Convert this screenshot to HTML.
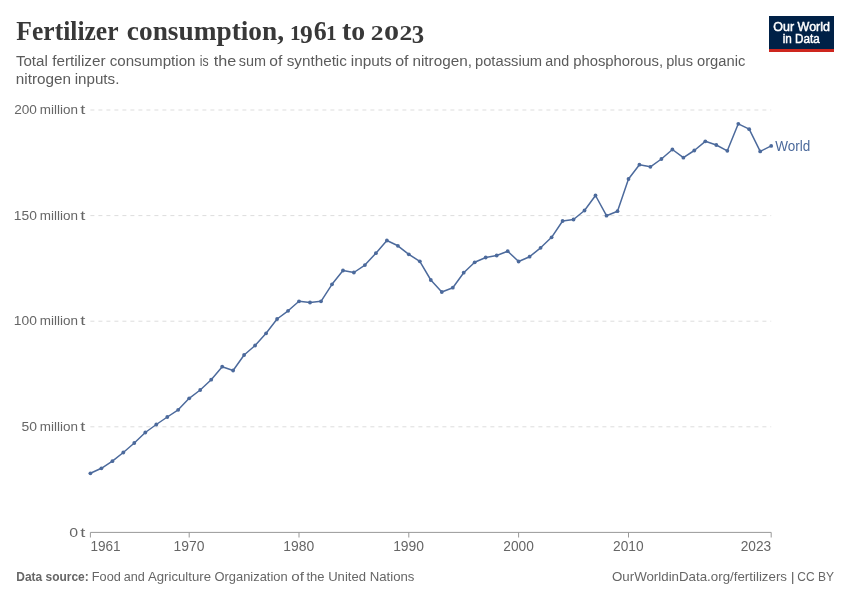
<!DOCTYPE html>
<html><head><meta charset="utf-8"><style>
html,body{margin:0;padding:0;background:#fff;}
svg{display:block;will-change:transform;font-family:"Liberation Sans",sans-serif;}
</style></head><body>
<svg width="850" height="600" viewBox="0 0 850 600">
<rect width="850" height="600" fill="#fff"/>
<g style="font-family:'Liberation Serif',serif" font-weight="bold" fill="#383838">
<text x="16.36" y="40.30" font-size="27.8" font-weight="bold" style="font-family:'Liberation Serif',serif" textLength="102.19" lengthAdjust="spacingAndGlyphs">Fertilizer</text>
<text x="126.87" y="40.30" font-size="27.8" font-weight="bold" style="font-family:'Liberation Serif',serif" textLength="157.17" lengthAdjust="spacingAndGlyphs">consumption,</text>
<text x="341.95" y="40.30" font-size="27.8" font-weight="bold" style="font-family:'Liberation Serif',serif" textLength="23.10" lengthAdjust="spacingAndGlyphs">to</text>
<text transform="translate(289.90,40.20) scale(0.2119,0.2015)" font-size="100">1</text><text transform="translate(300.10,43.46) scale(0.2543,0.2456)" font-size="100">9</text><text transform="translate(313.72,40.23) scale(0.2589,0.2753)" font-size="100">6</text><text transform="translate(326.08,40.20) scale(0.2146,0.2015)" font-size="100">1</text><text transform="translate(370.83,40.20) scale(0.2554,0.1994)" font-size="100">2</text><text transform="translate(383.95,40.30) scale(0.3020,0.2001)" font-size="100">0</text><text transform="translate(399.43,40.20) scale(0.2554,0.1994)" font-size="100">2</text><text transform="translate(411.77,43.16) scale(0.2475,0.2441)" font-size="100">3</text>
</g>
<g fill="#5b5b5b"><text x="15.88" y="66.40" font-size="15.3" textLength="31.99" lengthAdjust="spacingAndGlyphs">Total</text><text x="52.18" y="66.40" font-size="15.3" textLength="53.37" lengthAdjust="spacingAndGlyphs">fertilizer</text><text x="109.66" y="66.40" font-size="15.3" textLength="85.83" lengthAdjust="spacingAndGlyphs">consumption</text><text x="199.78" y="66.40" font-size="15.3" textLength="8.86" lengthAdjust="spacingAndGlyphs">is</text><text x="213.86" y="66.40" font-size="15.3" textLength="22.46" lengthAdjust="spacingAndGlyphs">the</text><text x="238.80" y="66.40" font-size="15.3" textLength="27.25" lengthAdjust="spacingAndGlyphs">sum</text><text x="269.34" y="66.40" font-size="15.3" textLength="13.03" lengthAdjust="spacingAndGlyphs">of</text><text x="286.68" y="66.40" font-size="15.3" textLength="60.23" lengthAdjust="spacingAndGlyphs">synthetic</text><text x="350.77" y="66.40" font-size="15.3" textLength="40.98" lengthAdjust="spacingAndGlyphs">inputs</text><text x="395.23" y="66.40" font-size="15.3" textLength="13.35" lengthAdjust="spacingAndGlyphs">of</text><text x="412.48" y="66.40" font-size="15.3" textLength="59.49" lengthAdjust="spacingAndGlyphs">nitrogen,</text><text x="474.95" y="66.40" font-size="15.3" textLength="67.22" lengthAdjust="spacingAndGlyphs">potassium</text><text x="545.29" y="66.40" font-size="15.3" textLength="23.83" lengthAdjust="spacingAndGlyphs">and</text><text x="573.14" y="66.40" font-size="15.3" textLength="89.99" lengthAdjust="spacingAndGlyphs">phosphorous,</text><text x="666.16" y="66.40" font-size="15.3" textLength="26.77" lengthAdjust="spacingAndGlyphs">plus</text><text x="696.98" y="66.40" font-size="15.3" textLength="48.31" lengthAdjust="spacingAndGlyphs">organic</text><text x="15.79" y="84.40" font-size="15.3" textLength="55.21" lengthAdjust="spacingAndGlyphs">nitrogen</text><text x="74.69" y="84.40" font-size="15.3" textLength="44.70" lengthAdjust="spacingAndGlyphs">inputs.</text></g>
<rect x="769" y="16" width="65" height="36" fill="#002147"/>
<rect x="769" y="49" width="65" height="3" fill="#ce261e"/>
<g fill="#fff"><text x="773.31" y="30.70" font-size="12.3" textLength="56.69" lengthAdjust="spacingAndGlyphs" stroke="#fff" stroke-width="0.45">Our World</text><text x="782.72" y="42.75" font-size="12.3" textLength="37.08" lengthAdjust="spacingAndGlyphs" stroke="#fff" stroke-width="0.45">in Data</text></g>
<line x1="90.4" y1="426.8" x2="771.2" y2="426.8" stroke="#dddddd" stroke-dasharray="4,4"/><line x1="90.4" y1="321.2" x2="771.2" y2="321.2" stroke="#dddddd" stroke-dasharray="4,4"/><line x1="90.4" y1="215.6" x2="771.2" y2="215.6" stroke="#dddddd" stroke-dasharray="4,4"/><line x1="90.4" y1="110.0" x2="771.2" y2="110.0" stroke="#dddddd" stroke-dasharray="4,4"/>
<g fill="#666"><text x="21.44" y="431.00" font-size="13.7" textLength="15.50" lengthAdjust="spacingAndGlyphs">50</text><text x="39.71" y="431.00" font-size="13.7" textLength="38.17" lengthAdjust="spacingAndGlyphs">million</text><text x="80.32" y="431.00" font-size="13.7" textLength="5.11" lengthAdjust="spacingAndGlyphs">t</text><text x="13.85" y="325.40" font-size="13.7" textLength="23.10" lengthAdjust="spacingAndGlyphs">100</text><text x="39.71" y="325.40" font-size="13.7" textLength="38.17" lengthAdjust="spacingAndGlyphs">million</text><text x="80.32" y="325.40" font-size="13.7" textLength="5.11" lengthAdjust="spacingAndGlyphs">t</text><text x="13.85" y="219.80" font-size="13.7" textLength="23.10" lengthAdjust="spacingAndGlyphs">150</text><text x="39.71" y="219.80" font-size="13.7" textLength="38.17" lengthAdjust="spacingAndGlyphs">million</text><text x="80.32" y="219.80" font-size="13.7" textLength="5.11" lengthAdjust="spacingAndGlyphs">t</text><text x="14.22" y="114.20" font-size="13.7" textLength="22.72" lengthAdjust="spacingAndGlyphs">200</text><text x="39.71" y="114.20" font-size="13.7" textLength="38.17" lengthAdjust="spacingAndGlyphs">million</text><text x="80.32" y="114.20" font-size="13.7" textLength="5.11" lengthAdjust="spacingAndGlyphs">t</text><text x="69.38" y="536.80" font-size="13.7" textLength="8.84" lengthAdjust="spacingAndGlyphs">0</text><text x="80.32" y="536.80" font-size="13.7" textLength="5.11" lengthAdjust="spacingAndGlyphs">t</text></g>
<line x1="90.4" y1="532.4" x2="771.2" y2="532.4" stroke="#999" stroke-width="1"/>
<line x1="90.4" y1="532.4" x2="90.4" y2="537.5" stroke="#999" stroke-width="1"/><line x1="189.2" y1="532.4" x2="189.2" y2="537.5" stroke="#999" stroke-width="1"/><line x1="299.0" y1="532.4" x2="299.0" y2="537.5" stroke="#999" stroke-width="1"/><line x1="408.8" y1="532.4" x2="408.8" y2="537.5" stroke="#999" stroke-width="1"/><line x1="518.6" y1="532.4" x2="518.6" y2="537.5" stroke="#999" stroke-width="1"/><line x1="628.5" y1="532.4" x2="628.5" y2="537.5" stroke="#999" stroke-width="1"/><line x1="771.2" y1="532.4" x2="771.2" y2="537.5" stroke="#999" stroke-width="1"/>
<g fill="#666"><text x="90.47" y="550.80" font-size="14.3" textLength="30.20" lengthAdjust="spacingAndGlyphs">1961</text><text x="173.52" y="550.80" font-size="14.3" textLength="30.90" lengthAdjust="spacingAndGlyphs">1970</text><text x="283.32" y="550.80" font-size="14.3" textLength="30.90" lengthAdjust="spacingAndGlyphs">1980</text><text x="393.13" y="550.80" font-size="14.3" textLength="30.90" lengthAdjust="spacingAndGlyphs">1990</text><text x="503.31" y="550.80" font-size="14.3" textLength="30.53" lengthAdjust="spacingAndGlyphs">2000</text><text x="613.11" y="550.80" font-size="14.3" textLength="30.53" lengthAdjust="spacingAndGlyphs">2010</text><text x="740.71" y="550.80" font-size="14.3" textLength="30.49" lengthAdjust="spacingAndGlyphs">2023</text></g>
<path d="M90.4,473.3 L101.4,468.3 L112.4,461.2 L123.3,452.5 L134.3,443.0 L145.3,432.5 L156.3,424.5 L167.3,417.0 L178.2,409.8 L189.2,398.3 L200.2,390.0 L211.2,379.7 L222.2,366.7 L233.1,370.5 L244.1,355.0 L255.1,345.5 L266.1,333.3 L277.1,319.0 L288.1,310.8 L299.0,301.3 L310.0,302.5 L321.0,301.3 L332.0,284.3 L343.0,270.5 L353.9,272.5 L364.9,265.1 L375.9,253.2 L386.9,240.5 L397.9,245.8 L408.8,254.3 L419.8,261.3 L430.8,280.0 L441.8,292.0 L452.8,287.7 L463.7,272.7 L474.7,262.3 L485.7,257.5 L496.7,255.5 L507.7,251.2 L518.6,261.5 L529.6,256.7 L540.6,247.8 L551.6,237.3 L562.6,221.0 L573.5,219.5 L584.5,210.5 L595.5,195.5 L606.5,215.7 L617.5,211.2 L628.5,179.0 L639.4,164.7 L650.4,166.8 L661.4,159.0 L672.4,149.5 L683.4,157.7 L694.3,150.5 L705.3,141.3 L716.3,145.0 L727.3,150.8 L738.3,123.8 L749.2,129.2 L760.2,151.4 L771.2,145.9" fill="none" stroke="#4c6a9c" stroke-width="1.5" stroke-linejoin="round"/>
<g fill="#4c6a9c"><circle cx="90.4" cy="473.3" r="1.9"/><circle cx="101.4" cy="468.3" r="1.9"/><circle cx="112.4" cy="461.2" r="1.9"/><circle cx="123.3" cy="452.5" r="1.9"/><circle cx="134.3" cy="443.0" r="1.9"/><circle cx="145.3" cy="432.5" r="1.9"/><circle cx="156.3" cy="424.5" r="1.9"/><circle cx="167.3" cy="417.0" r="1.9"/><circle cx="178.2" cy="409.8" r="1.9"/><circle cx="189.2" cy="398.3" r="1.9"/><circle cx="200.2" cy="390.0" r="1.9"/><circle cx="211.2" cy="379.7" r="1.9"/><circle cx="222.2" cy="366.7" r="1.9"/><circle cx="233.1" cy="370.5" r="1.9"/><circle cx="244.1" cy="355.0" r="1.9"/><circle cx="255.1" cy="345.5" r="1.9"/><circle cx="266.1" cy="333.3" r="1.9"/><circle cx="277.1" cy="319.0" r="1.9"/><circle cx="288.1" cy="310.8" r="1.9"/><circle cx="299.0" cy="301.3" r="1.9"/><circle cx="310.0" cy="302.5" r="1.9"/><circle cx="321.0" cy="301.3" r="1.9"/><circle cx="332.0" cy="284.3" r="1.9"/><circle cx="343.0" cy="270.5" r="1.9"/><circle cx="353.9" cy="272.5" r="1.9"/><circle cx="364.9" cy="265.1" r="1.9"/><circle cx="375.9" cy="253.2" r="1.9"/><circle cx="386.9" cy="240.5" r="1.9"/><circle cx="397.9" cy="245.8" r="1.9"/><circle cx="408.8" cy="254.3" r="1.9"/><circle cx="419.8" cy="261.3" r="1.9"/><circle cx="430.8" cy="280.0" r="1.9"/><circle cx="441.8" cy="292.0" r="1.9"/><circle cx="452.8" cy="287.7" r="1.9"/><circle cx="463.7" cy="272.7" r="1.9"/><circle cx="474.7" cy="262.3" r="1.9"/><circle cx="485.7" cy="257.5" r="1.9"/><circle cx="496.7" cy="255.5" r="1.9"/><circle cx="507.7" cy="251.2" r="1.9"/><circle cx="518.6" cy="261.5" r="1.9"/><circle cx="529.6" cy="256.7" r="1.9"/><circle cx="540.6" cy="247.8" r="1.9"/><circle cx="551.6" cy="237.3" r="1.9"/><circle cx="562.6" cy="221.0" r="1.9"/><circle cx="573.5" cy="219.5" r="1.9"/><circle cx="584.5" cy="210.5" r="1.9"/><circle cx="595.5" cy="195.5" r="1.9"/><circle cx="606.5" cy="215.7" r="1.9"/><circle cx="617.5" cy="211.2" r="1.9"/><circle cx="628.5" cy="179.0" r="1.9"/><circle cx="639.4" cy="164.7" r="1.9"/><circle cx="650.4" cy="166.8" r="1.9"/><circle cx="661.4" cy="159.0" r="1.9"/><circle cx="672.4" cy="149.5" r="1.9"/><circle cx="683.4" cy="157.7" r="1.9"/><circle cx="694.3" cy="150.5" r="1.9"/><circle cx="705.3" cy="141.3" r="1.9"/><circle cx="716.3" cy="145.0" r="1.9"/><circle cx="727.3" cy="150.8" r="1.9"/><circle cx="738.3" cy="123.8" r="1.9"/><circle cx="749.2" cy="129.2" r="1.9"/><circle cx="760.2" cy="151.4" r="1.9"/><circle cx="771.2" cy="145.9" r="1.9"/></g>
<g fill="#4c6a9c"><text x="775.24" y="150.90" font-size="14.5" textLength="35.02" lengthAdjust="spacingAndGlyphs">World</text></g>
<g fill="#666"><text x="16.30" y="580.80" font-size="13.3" font-weight="bold" textLength="72.45" lengthAdjust="spacingAndGlyphs">Data source:</text><text x="91.86" y="580.80" font-size="13.3" textLength="28.96" lengthAdjust="spacingAndGlyphs">Food</text><text x="123.66" y="580.80" font-size="13.3" textLength="21.05" lengthAdjust="spacingAndGlyphs">and</text><text x="147.97" y="580.80" font-size="13.3" textLength="63.01" lengthAdjust="spacingAndGlyphs">Agriculture</text><text x="214.49" y="580.80" font-size="13.3" textLength="73.15" lengthAdjust="spacingAndGlyphs">Organization</text><text x="291.16" y="580.80" font-size="13.3" textLength="12.72" lengthAdjust="spacingAndGlyphs">of</text><text x="306.40" y="580.80" font-size="13.3" textLength="18.07" lengthAdjust="spacingAndGlyphs">the</text><text x="328.19" y="580.80" font-size="13.3" textLength="37.75" lengthAdjust="spacingAndGlyphs">United</text><text x="369.72" y="580.80" font-size="13.3" textLength="44.76" lengthAdjust="spacingAndGlyphs">Nations</text><text x="611.97" y="580.80" font-size="13.3" textLength="175.01" lengthAdjust="spacingAndGlyphs">OurWorldinData.org/fertilizers</text><text x="790.78" y="580.80" font-size="13.3" textLength="3.85" lengthAdjust="spacingAndGlyphs">|</text><text x="797.29" y="580.80" font-size="13.3" textLength="36.67" lengthAdjust="spacingAndGlyphs">CC BY</text></g>
</svg>
</body></html>
